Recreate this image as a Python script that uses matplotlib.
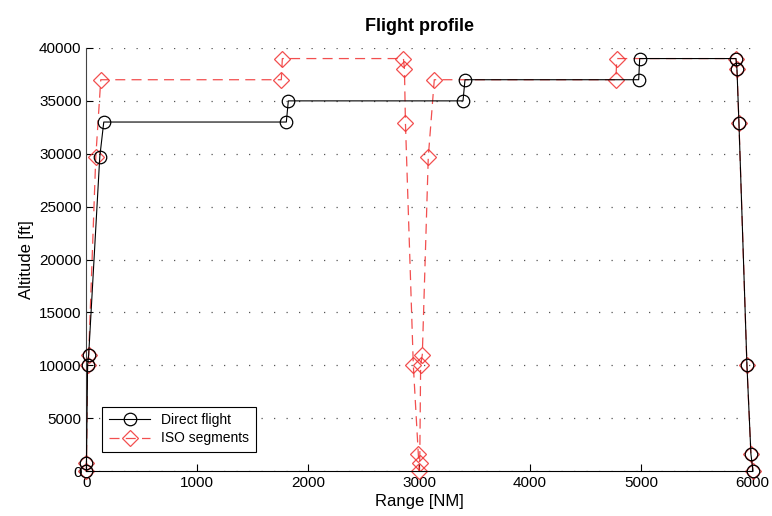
"""
Flight profile chart: direct flight vs ISO segments
"""
import matplotlib
matplotlib.use('Agg')
import matplotlib.pyplot as plt

plt.rcParams['font.family'] = ['Liberation Sans', 'DejaVu Sans']

# Direct flight (range in NM, altitude in ft)
direct_range = [0, 0, 10, 20, 120, 156, 1802, 1820, 3395, 3413, 4979, 4988,
                5856, 5865, 5883, 5955, 5991, 6010]
direct_alt = [0, 800, 10000, 11000, 29700, 33000, 33000, 35000, 35000, 37000,
              37000, 39000, 39000, 38000, 32900, 10000, 1600, 0]

# ISO segments
iso_range = [0, 0, 10, 20, 84, 129, 1757, 1766, 2858, 2867, 2876, 2947, 2992,
             3001, 3005, 3013, 3028, 3082, 3136, 4773, 4782, 5856, 5865, 5883,
             5955, 5991, 6010]
iso_alt = [0, 800, 10000, 11000, 29700, 37000, 37000, 39000, 39000, 38000,
           32900, 10000, 1600, 0, 800, 10000, 11000, 29700, 37000, 37000,
           39000, 39000, 38000, 32900, 10000, 1600, 0]

x_ticks = [0, 1000, 2000, 3000, 4000, 5000, 6000]
y_ticks = [0, 5000, 10000, 15000, 20000, 25000, 30000, 35000, 40000]

fig = plt.figure(figsize=(7.72, 5.16), dpi=100)
ax = fig.add_axes([0.112, 0.087, 0.862, 0.820])

ax.plot(direct_range, direct_alt, color='black', linewidth=0.8,
        marker='o', markersize=9, markerfacecolor='none',
        markeredgewidth=0.9, label='Direct flight', zorder=3, clip_on=False)
ax.plot(iso_range, iso_alt, color='#f03030', linewidth=0.9, alpha=0.85,
        linestyle=(0, (8, 5)), marker='D', markersize=8.5,
        markerfacecolor='none', markeredgewidth=0.9,
        label='ISO segments', zorder=2, clip_on=False)

ax.set_xlim(0, 6000)
ax.set_ylim(0, 40000)
ax.set_xticks(x_ticks)
ax.set_yticks(y_ticks)
ax.tick_params(direction='in', length=5, labelsize=11)

ax.spines['top'].set_visible(False)
ax.spines['right'].set_visible(False)
ax.spines['left'].set_color('#444444')

ax.yaxis.grid(True, color='#555555', linestyle=(0, (1, 9)), linewidth=0.9)
ax.set_axisbelow(True)

ax.set_xlabel('Range [NM]', fontsize=12, labelpad=3)
ax.set_ylabel('Altitude [ft]', fontsize=12, labelpad=4)
ax.set_title('Flight profile', fontsize=13, fontweight='bold', pad=12)

leg = ax.legend(loc='lower left', bbox_to_anchor=(0.024, 0.046),
                borderaxespad=0, fontsize=10, fancybox=False, framealpha=1,
                edgecolor='black', borderpad=0.45, handlelength=3,
                labelspacing=0.3)
leg.get_frame().set_linewidth(0.8)

fig.savefig('out.png', dpi=100)
